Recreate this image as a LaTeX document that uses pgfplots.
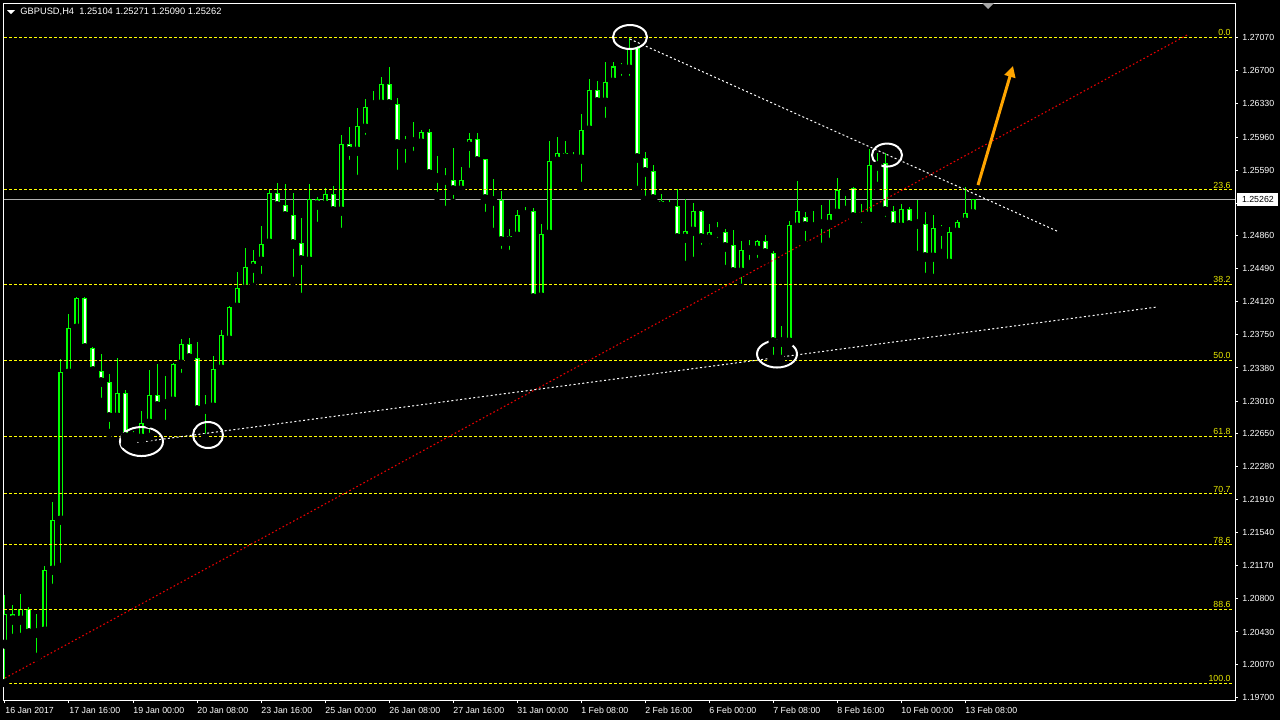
\documentclass[border=0pt]{standalone}
\usepackage{pgfplots}
\pgfplotsset{compat=1.18}
\usepackage{pgfplotstable}
\usepackage{fontspec}
\setmainfont{Liberation Sans}
\usetikzlibrary{arrows.meta}
\definecolor{cgreen}{RGB}{0,255,0}
\definecolor{fibyellow}{RGB}{255,255,0}
\definecolor{fibtext}{RGB}{235,235,0}
\definecolor{arroworange}{RGB}{255,165,0}
\definecolor{pricegray}{RGB}{176,176,176}
\definecolor{trendred}{RGB}{235,0,0}
\newcommand{\lbl}{\fontsize{4.4pt}{5pt}\selectfont}
\newcommand{\ttl}{\fontsize{4.65pt}{5.2pt}\selectfont}

% bullish candles (close >= open)
\pgfplotstableread{
i o h l c
0 1.20295 1.20843 1.19859 1.20620
2 1.20564 1.20854 1.20374 1.20676
4 1.20418 1.20631 1.20151 1.20441
5 1.20441 1.21167 1.20418 1.21122
6 1.21122 1.21883 1.20922 1.21681
7 1.21681 1.23480 1.21156 1.23335
8 1.23323 1.23983 1.23301 1.23826
9 1.23826 1.24172 1.23748 1.24161
14 1.22832 1.23491 1.22764 1.23100
16 1.22609 1.22676 1.22530 1.22620
17 1.22597 1.22899 1.22586 1.22764
18 1.22764 1.23357 1.22609 1.23078
20 1.22977 1.23290 1.22753 1.23011
21 1.23011 1.23435 1.22933 1.23424
22 1.23424 1.23703 1.23279 1.23647
25 1.22921 1.23078 1.22597 1.22944
26 1.22944 1.23514 1.22921 1.23368
27 1.23368 1.23804 1.23346 1.23748
28 1.23692 1.24072 1.23681 1.24061
29 1.24061 1.24452 1.24039 1.24273
30 1.24262 1.24721 1.24229 1.24508
31 1.24497 1.24698 1.24285 1.24575
32 1.24575 1.24966 1.24385 1.24765
33 1.24776 1.25379 1.24721 1.25324
38 1.24575 1.25435 1.24552 1.25268
40 1.25201 1.25391 1.25111 1.25313
42 1.25134 1.25983 1.24899 1.25882
44 1.25804 1.26284 1.25491 1.26073
45 1.26061 1.26385 1.25938 1.26296
46 1.26318 1.26475 1.26251 1.26320
47 1.26329 1.26631 1.26296 1.26552
50 1.25882 1.25972 1.25626 1.25916
51 1.25905 1.26128 1.25759 1.25907
52 1.25894 1.26039 1.25826 1.26006
57 1.25368 1.25626 1.25346 1.25480
58 1.25860 1.26005 1.25570 1.25938
63 1.24799 1.24932 1.24653 1.24854
64 1.24854 1.25145 1.24765 1.25089
65 1.25089 1.25179 1.25011 1.25123
67 1.24173 1.24988 1.24117 1.24876
68 1.24876 1.25916 1.24788 1.25692
69 1.25692 1.25961 1.25626 1.25781
71 1.25715 1.25793 1.25648 1.25717
72 1.25715 1.26217 1.25413 1.26039
73 1.26039 1.26608 1.25949 1.26475
75 1.26352 1.26799 1.26128 1.26575
76 1.26575 1.26799 1.26508 1.26743
78 1.26720 1.27070 1.26597 1.26955
85 1.24832 1.25268 1.24530 1.24910
86 1.24910 1.25223 1.24575 1.25123
88 1.24821 1.24988 1.24721 1.24899
89 1.24899 1.25011 1.24788 1.24901
92 1.24452 1.24799 1.24274 1.24698
93 1.24698 1.24810 1.24541 1.24700
94 1.24698 1.24810 1.24564 1.24788
97 1.23670 1.23849 1.23480 1.23672
98 1.23670 1.25022 1.23659 1.24977
99 1.24955 1.25469 1.24944 1.25123
101 1.24955 1.25134 1.24944 1.24999
103 1.24988 1.25257 1.24788 1.25100
104 1.25111 1.25503 1.25056 1.25368
105 1.25357 1.25402 1.25145 1.25391
108 1.25078 1.25826 1.24999 1.25637
109 1.25637 1.25781 1.25413 1.25670
112 1.24955 1.25212 1.24887 1.25156
114 1.24988 1.25257 1.24642 1.24990
116 1.24620 1.25089 1.24385 1.24944
118 1.24552 1.24955 1.24541 1.24899
119 1.24899 1.25033 1.24843 1.25011
120 1.25011 1.25402 1.24988 1.25111
121 1.25104 1.25271 1.25090 1.25262
}\bull

% bearish candles (close < open)
\pgfplotstableread{
i o h l c
1 1.20631 1.20731 1.20363 1.20564
3 1.20686 1.20709 1.20363 1.20418
10 1.24161 1.24172 1.23547 1.23603
11 1.23603 1.23614 1.23256 1.23346
12 1.23346 1.23536 1.23000 1.23223
13 1.23223 1.23312 1.22653 1.22832
15 1.23100 1.23134 1.22530 1.22609
19 1.23078 1.23424 1.22876 1.22955
23 1.23647 1.23715 1.23469 1.23491
24 1.23491 1.23670 1.22832 1.22910
34 1.25335 1.25446 1.25111 1.25190
35 1.25190 1.25435 1.25011 1.25078
36 1.25089 1.25335 1.24352 1.24765
37 1.24776 1.25056 1.24173 1.24586
39 1.25268 1.25290 1.24966 1.25201
41 1.25313 1.25413 1.25089 1.25134
43 1.25882 1.26073 1.25659 1.25804
48 1.26552 1.26743 1.26228 1.26329
49 1.26329 1.26396 1.25547 1.25882
53 1.26006 1.26050 1.25514 1.25547
54 1.25547 1.25748 1.25301 1.25503
55 1.25503 1.25614 1.25145 1.25480
56 1.25480 1.25838 1.25223 1.25368
59 1.25938 1.26005 1.25670 1.25692
60 1.25704 1.25715 1.25078 1.25268
61 1.25279 1.25491 1.24899 1.25246
62 1.25246 1.25357 1.24664 1.24799
66 1.25123 1.25168 1.24128 1.24161
70 1.25781 1.25916 1.25704 1.25726
74 1.26475 1.26586 1.26262 1.26352
77 1.26743 1.26787 1.26597 1.26720
79 1.26955 1.26977 1.25368 1.25726
80 1.25726 1.25793 1.25257 1.25570
81 1.25570 1.25648 1.25179 1.25268
82 1.25235 1.25323 1.25100 1.25190
83 1.25201 1.25257 1.25100 1.25179
84 1.25179 1.25380 1.24743 1.24832
87 1.25123 1.25145 1.24709 1.24832
90 1.24899 1.24932 1.24485 1.24732
91 1.24743 1.24921 1.24440 1.24452
95 1.24788 1.24865 1.24586 1.24664
96 1.24664 1.24687 1.23480 1.23670
100 1.25056 1.25123 1.24754 1.24966
102 1.25011 1.25201 1.24732 1.24988
106 1.25380 1.25402 1.24999 1.25067
107 1.25078 1.25212 1.24955 1.25067
110 1.25670 1.25781 1.25022 1.25134
111 1.25123 1.25190 1.24899 1.24955
113 1.25156 1.25179 1.24955 1.24977
115 1.24988 1.25123 1.24396 1.24620
117 1.24932 1.24977 1.24664 1.24910
}\bear

\begin{document}
\begin{tikzpicture}
\fill[black] (0pt,0pt) rectangle (640pt,360pt);
\begin{axis}[
  at={(2pt,10pt)}, anchor=south west,
  scale only axis, width=615.5pt, height=348.5pt,
  xmin=-0.125, xmax=153.75, ymin=1.1967, ymax=1.27458,
  axis line style={white, line width=0.5pt},
  tick align=outside, major tick length=1.5pt,
  tick style={white, line width=0.5pt},
  xtick={0,8,...,120}, xtick pos=bottom,
  xticklabels={16 Jan 2017,17 Jan 16:00,19 Jan 00:00,20 Jan 08:00,23 Jan 16:00,25 Jan 00:00,26 Jan 08:00,27 Jan 16:00,31 Jan 00:00,1 Feb 08:00,2 Feb 16:00,6 Feb 00:00,7 Feb 08:00,8 Feb 16:00,10 Feb 00:00,13 Feb 08:00},
  xticklabel style={font=\lbl, text=white, anchor=north west, inner sep=0pt, yshift=-2pt},
  ytick={1.27070,1.26700,1.26330,1.25960,1.25590,1.25220,1.24860,1.24490,1.24120,1.23750,1.23380,1.23010,1.22650,1.22280,1.21910,1.21540,1.21170,1.20800,1.20430,1.20070,1.19700},
  yticklabels={1.27070,1.26700,1.26330,1.25960,1.25590,{},1.24860,1.24490,1.24120,1.23750,1.23380,1.23010,1.22650,1.22280,1.21910,1.21540,1.21170,1.20800,1.20430,1.20070,1.19700},
  ytick pos=right, yticklabel pos=right,
  yticklabel style={font=\lbl, text=white, anchor=west, inner sep=0pt, xshift=2pt},
]
% price line
\addplot[pricegray, line width=0.5pt] coordinates {(-0.125,1.25262) (153.75,1.25262)};
% wicks
\addplot[only marks, mark=none, error bars/.cd, y dir=plus, y explicit, error mark=none,
  error bar style={cgreen, line width=0.5pt}]
  table[x=i, y=l, y error expr=\thisrow{h}-\thisrow{l}] {\bull};
\addplot[only marks, mark=none, error bars/.cd, y dir=plus, y explicit, error mark=none,
  error bar style={cgreen, line width=0.5pt}]
  table[x=i, y=l, y error expr=\thisrow{h}-\thisrow{l}] {\bear};
% bodies: outline
\addplot[only marks, mark=none, error bars/.cd, y dir=plus, y explicit, error mark=none,
  error bar style={cgreen, line width=2.5pt}]
  table[x=i, y expr=\thisrow{o}-0.000056, y error expr=\thisrow{c}-\thisrow{o}+0.000112] {\bull};
\addplot[only marks, mark=none, error bars/.cd, y dir=plus, y explicit, error mark=none,
  error bar style={cgreen, line width=2.5pt}]
  table[x=i, y expr=\thisrow{c}-0.000056, y error expr=\thisrow{o}-\thisrow{c}+0.000112] {\bear};
% bodies: inside
\addplot[only marks, mark=none, error bars/.cd, y dir=plus, y explicit, error mark=none,
  error bar style={black, line width=1.3pt}]
  table[x=i, y expr=\thisrow{o}+0.000056, y error expr={max(\thisrow{c}-\thisrow{o}-0.000112,0)}] {\bull};
\addplot[only marks, mark=none, error bars/.cd, y dir=plus, y explicit, error mark=none,
  error bar style={white, line width=1.3pt}]
  table[x=i, y expr=\thisrow{c}+0.000056, y error expr={max(\thisrow{o}-\thisrow{c}-0.000112,0)}] {\bear};
% fibonacci levels
\pgfplotsinvokeforeach{1.27073,1.25370,1.24317,1.23466,1.22615,1.21973,1.21403,1.20681,1.19859}{
  \addplot[fibyellow, line width=0.5pt, dash pattern=on 1.5pt off 1pt] coordinates {(-0.125,#1) (153.4,#1)};
}
\node[fibtext, font=\lbl, anchor=south east, inner sep=0.6pt] at (axis cs:153.4,1.27073) {0.0};
\node[fibtext, font=\lbl, anchor=south east, inner sep=0.6pt] at (axis cs:153.4,1.25370) {23.6};
\node[fibtext, font=\lbl, anchor=south east, inner sep=0.6pt] at (axis cs:153.4,1.24317) {38.2};
\node[fibtext, font=\lbl, anchor=south east, inner sep=0.6pt] at (axis cs:153.4,1.23466) {50.0};
\node[fibtext, font=\lbl, anchor=south east, inner sep=0.6pt] at (axis cs:153.4,1.22615) {61.8};
\node[fibtext, font=\lbl, anchor=south east, inner sep=0.6pt] at (axis cs:153.4,1.21973) {70.7};
\node[fibtext, font=\lbl, anchor=south east, inner sep=0.6pt] at (axis cs:153.4,1.21403) {78.6};
\node[fibtext, font=\lbl, anchor=south east, inner sep=0.6pt] at (axis cs:153.4,1.20681) {88.6};
\node[fibtext, font=\lbl, anchor=south east, inner sep=0.6pt] at (axis cs:153.4,1.19859) {100.0};
% trend lines
\addplot[trendred, line width=0.55pt, dash pattern=on 0.8pt off 1.2pt] coordinates {(0,1.19915) (147.75,1.27100)};
\addplot[white, line width=0.5pt, dash pattern=on 1pt off 1.2pt] coordinates {(78.1,1.27056) (131.5,1.24910)};
\addplot[white, line width=0.5pt, dash pattern=on 1pt off 1.2pt] coordinates {(16,1.22541) (144,1.24061)};
% annotations
\draw[white, line width=1pt] (axis cs:17.06,1.22558) ellipse [x radius=10.75pt, y radius=7.25pt];
\draw[white, line width=1pt] (axis cs:25.375,1.22631) ellipse [x radius=7.5pt, y radius=6.5pt];
\draw[white, line width=1pt] (axis cs:78.125,1.27078) ellipse [x radius=8.5pt, y radius=6pt];
\draw[white, line width=1pt] (axis cs:96.5,1.23536) ellipse [x radius=10pt, y radius=6.75pt];
\draw[white, line width=1pt] (axis cs:110.25,1.25759) ellipse [x radius=7.5pt, y radius=5.75pt];
\draw[arroworange, line width=1.5pt, -{Triangle[length=5.5pt, width=5.5pt]}] (axis cs:121.625,1.25424) -- (axis cs:126,1.26754);
\end{axis}
% current price label
\node[fill=white, text=black, anchor=west, inner sep=0pt, minimum height=6.5pt, minimum width=20.5pt, font=\lbl] at (618.5pt,260.25pt) {1.25262};
% title
\fill[white] (3.5pt,355pt) -- (7.5pt,355pt) -- (5.5pt,353pt) -- cycle;
\node[text=white, anchor=west, inner sep=0pt, font=\ttl] at (10pt,354.2pt) {GBPUSD,H4\ \ 1.25104 1.25271 1.25090 1.25262};
\fill[gray!70] (491pt,358.5pt) -- (497pt,358.5pt) -- (494pt,355.5pt) -- cycle;
\pgfresetboundingbox
\useasboundingbox (0pt,0pt) rectangle (640pt,360pt);
\end{tikzpicture}
\end{document}
